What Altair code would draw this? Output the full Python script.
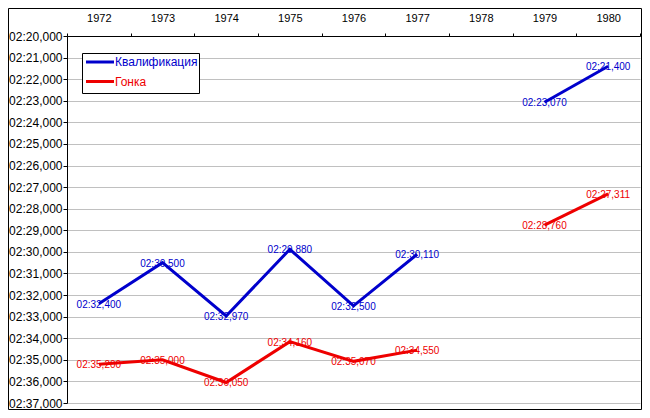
import altair as alt
import pandas as pd

years = [1972, 1973, 1974, 1975, 1976, 1977, 1978, 1979, 1980]
qual_times = ["02:32,400", "02:30,500", "02:32,970", "02:29,880", "02:32,500",
              "02:30,110", None, "02:23,070", "02:21,400"]
race_times = ["02:35,200", "02:35,000", "02:36,050", "02:34,160", "02:35,070",
              "02:34,550", None, "02:28,760", "02:27,311"]
series_names = ["Квалификация", "Гонка"]
series_colors = ["#0000cc", "#ee0000"]
y_ticks = list(range(140, 158))


def to_sec(t):
    m, rest = t.split(":")
    return int(m) * 60 + float(rest.replace(",", "."))


rows = []
for name, times in zip(series_names, [qual_times, race_times]):
    seg = 0
    for yr, t in zip(years, times):
        if t is None:
            seg += 1
            continue
        rows.append({"year": yr, "sec": to_sec(t), "label": t,
                     "series": name, "seg": f"{name}-{seg}"})
df = pd.DataFrame(rows)

FONT = "Liberation Sans"
W, H = 573, 367

x_enc = alt.X("year:O", bandPosition=0.5,
              scale=alt.Scale(type="band", domain=years, paddingInner=0, paddingOuter=0),
              axis=alt.Axis(orient="top", tickBand="extent", labelAngle=0, title=None,
                            grid=False, domainColor="black", tickColor="black",
                            tickSize=3, labelPadding=10, labelFontSize=11,
                            labelColor="black", labelFont=FONT))
y_enc = alt.Y("sec:Q",
              scale=alt.Scale(domain=[140, 157], reverse=True, nice=False, zero=False),
              axis=alt.Axis(values=y_ticks, title=None, grid=True, gridColor="#c0c0c0",
                            domainColor="black", tickColor="black", tickSize=4,
                            labelPadding=1, labelFontSize=12, labelColor="black",
                            labelFont=FONT,
                            labelExpr="'02:' + format(datum.value - 120, 'd') + ',000'"))
color_enc = alt.Color("series:N", scale=alt.Scale(domain=series_names, range=series_colors),
                      legend=None)

base = alt.Chart(df)
labels = base.mark_text(fontSize=10, font=FONT, baseline="middle", align="center", dy=1).encode(
    x=x_enc, y=y_enc, text="label:N", color=color_enc)
lines = base.mark_line(strokeWidth=3).encode(
    x=x_enc, y=y_enc, color=color_enc, detail="seg:N")

one = pd.DataFrame({"a": [0]})
legend_box = alt.Chart(one).mark_rect(fill="white", stroke="black", strokeWidth=1).encode(
    x=alt.value(15.5), x2=alt.value(132.5), y=alt.value(17.5), y2=alt.value(57.5))
leg_items = []
for i, (name, col) in enumerate(zip(series_names, series_colors)):
    yy = 26 + i * 19.5
    leg_items.append(alt.Chart(one).mark_rule(color=col, strokeWidth=3).encode(
        x=alt.value(19), x2=alt.value(47), y=alt.value(yy)))
    leg_items.append(alt.Chart(one).mark_text(color=col, fontSize=12, font=FONT,
                                              align="left", baseline="middle").encode(
        x=alt.value(48), y=alt.value(yy), text=alt.value(name)))

frame = alt.Chart(one).mark_rect(fillOpacity=0, stroke="black", strokeWidth=1).encode(
    x=alt.value(-58.5), x2=alt.value(574.5), y=alt.value(-27.5), y2=alt.value(373.5))

chart = alt.layer(labels, lines, legend_box, *leg_items, frame).properties(
    width=W, height=H,
    autosize=alt.AutoSizeParams(type="none"),
    padding={"left": 59, "top": 28, "right": 2, "bottom": 7},
    background="white",
).configure_view(stroke="transparent")

chart.save("out.html", embed_options={"renderer": "svg", "actions": False})
